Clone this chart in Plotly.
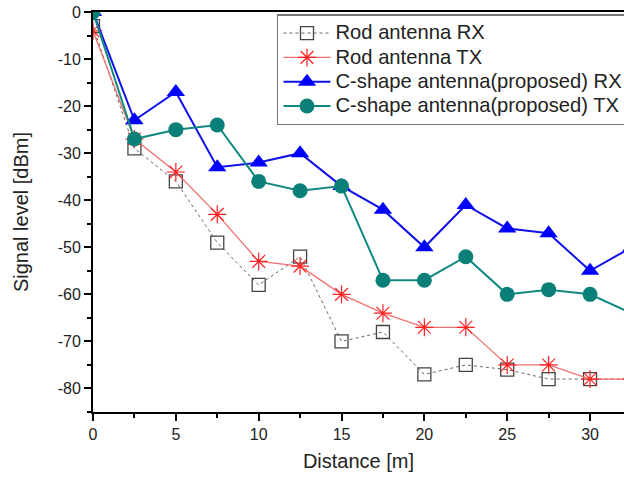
import plotly.graph_objects as go

distance = [0, 2.5, 5, 7.5, 10, 12.5, 15, 17.5, 20, 22.5, 25, 27.5, 30, 32.5]
rod_rx = [-3, -29, -36, -49, -58, -52, -70, -68, -77, -75, -76, -78, -78, -78]
rod_tx = [-4, -27, -34, -43, -53, -54, -60, -64, -67, -67, -75, -75, -78, -78]
c_rx = [0, -23, -17, -33, -32, -30, -37, -42, -50, -41, -46, -47, -55, -50]
c_tx = [0, -27, -25, -24, -36, -38, -37, -57, -57, -52, -60, -59, -60, -64]

names = ["Rod antenna RX", "Rod antenna TX",
         "C-shape antenna(proposed) RX", "C-shape antenna(proposed) TX"]


def legend_label(text):
    return "<span style='font-size:20.2px'>" + text + "</span>"


fig = go.Figure()
fig.add_trace(go.Scatter(
    x=distance, y=rod_rx, name=legend_label(names[0]), mode="lines+markers",
    line=dict(color="#666666", width=1, dash="dot"),
    marker=dict(symbol="square-open", size=13, color="#444444", line=dict(width=1.3)),
))
fig.add_trace(go.Scatter(
    x=distance, y=rod_tx, name=legend_label(names[1]), mode="lines+markers",
    line=dict(color="#f07070", width=1.3),
    marker=dict(symbol="asterisk-open", size=15, color="#ff2020", line=dict(width=1.2, color="#ff2020")),
))
fig.add_trace(go.Scatter(
    x=distance, y=c_rx, name=legend_label(names[2]), mode="lines+markers",
    line=dict(color="#1010e8", width=2),
    marker=dict(symbol="triangle-up", size=16, color="#0000ff"),
))
fig.add_trace(go.Scatter(
    x=distance, y=c_tx, name=legend_label(names[3]), mode="lines+markers",
    line=dict(color="#108a80", width=2),
    marker=dict(symbol="circle", size=15, color="#0a8078"),
))

font = dict(family="Liberation Sans, Arial, sans-serif", color="#222222")

fig.update_layout(
    width=624, height=477,
    margin=dict(l=93, r=0, t=12, b=65, autoexpand=False),
    paper_bgcolor="white", plot_bgcolor="white",
    font=font,
    showlegend=True,
    legend=dict(
        x=0.3465, y=0.994, xanchor="left", yanchor="top",
        bgcolor="white", bordercolor="#777777", borderwidth=1.5,
        font=dict(size=16.4, family=font["family"], color="#222222"),
        itemwidth=47, tracegroupgap=0,
    ),
    xaxis=dict(
        range=[0, 32.05], tickvals=[0, 5, 10, 15, 20, 25, 30],
        showgrid=False, zeroline=False, automargin=False,
        showline=True, linecolor="black", linewidth=2, mirror=True,
        ticks="outside", ticklen=7, tickwidth=2, tickcolor="black",
        minor=dict(dtick=2.5, tick0=0, ticks="outside", ticklen=4, tickwidth=2, tickcolor="black"),
        tickfont=dict(size=16),
        title=dict(text="Distance [m]", font=dict(size=20), standoff=12),
    ),
    yaxis=dict(
        range=[-85, 0], tickvals=[0, -10, -20, -30, -40, -50, -60, -70, -80],
        ticktext=["0", "-10", "-20", "-30", "-40", "-50", "-60", "-70", "-80"],
        showgrid=False, zeroline=False, automargin=False,
        showline=True, linecolor="black", linewidth=2,
        ticks="outside", ticklen=7, tickwidth=2, tickcolor="black",
        minor=dict(dtick=5, tick0=0, ticks="outside", ticklen=4, tickwidth=2, tickcolor="black"),
        tickfont=dict(size=16),
        title=dict(text="Signal level [dBm]", font=dict(size=20), standoff=24),
    ),
)

fig.write_html("out.html")
